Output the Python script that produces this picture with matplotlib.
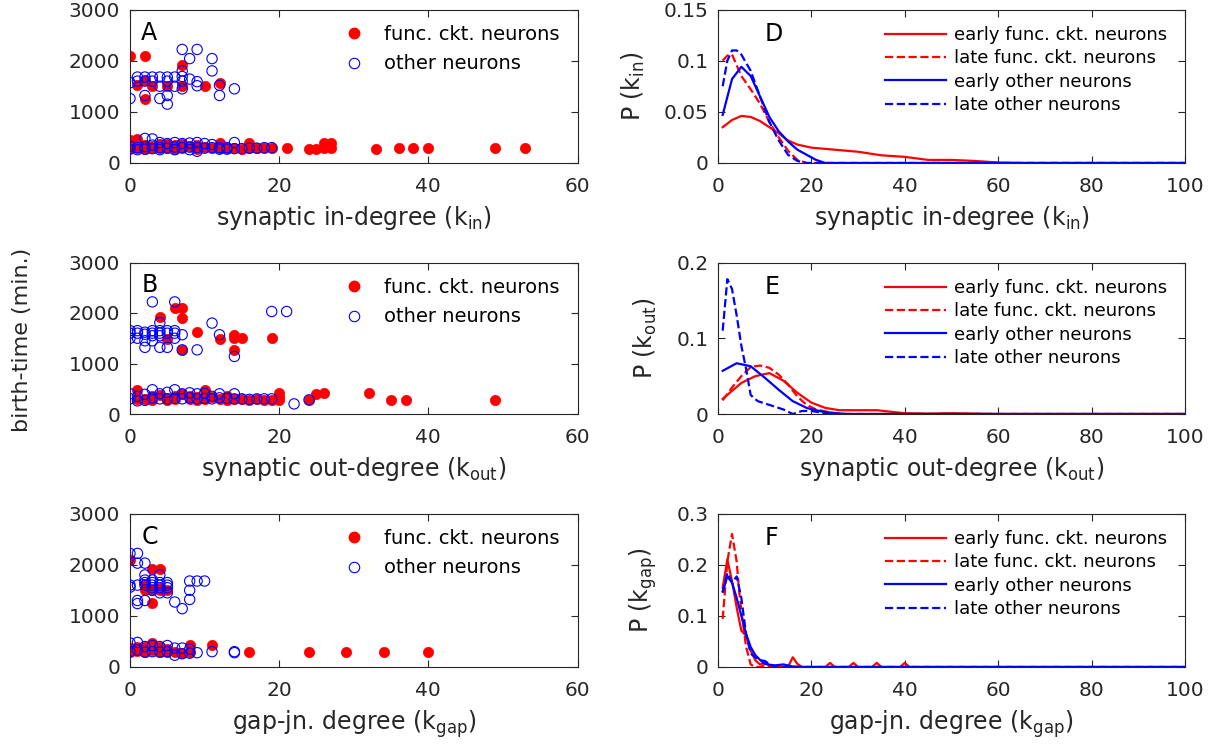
import matplotlib
matplotlib.use("Agg")
import matplotlib.pyplot as plt
from matplotlib.lines import Line2D

plt.rcParams['font.family'] = ['DejaVu Sans']
plt.rcParams['mathtext.default'] = 'regular'

TXT = '#262626'

# ---------------- Scatter data (degree, birth-time) ----------------
# Panel A: synaptic in-degree
a_func_x = [0, 2, 7, 1, 2, 2, 3, 5, 7, 10, 12,
            0, 0, 1, 1, 2, 2, 3, 3, 4, 4, 5, 5, 6, 6, 7, 7, 8, 9, 9, 10, 11, 12, 12,
            13, 14, 15, 16, 16, 17, 18, 19, 21, 24, 25, 26, 26, 27, 27, 33, 36, 38,
            40, 49, 53]
a_func_y = [2100, 2100, 1920, 1520, 1620, 1260, 1500, 1500, 1500, 1500, 1570,
            450, 300, 460, 300, 350, 280, 330, 290, 380, 300, 370, 290, 350, 280,
            380, 300, 340, 360, 280, 320, 300, 400, 290,
            300, 290, 280, 400, 300, 290, 290, 290, 290, 280, 280, 400, 300, 400,
            290, 280, 290, 290, 290, 290, 290]
a_other_x = [0, 0, 1, 1, 2, 2, 2, 3, 3, 4, 4, 4, 5, 5, 5, 5, 6, 6, 7, 7, 7, 7, 7,
             8, 8, 9, 9, 9, 11, 11, 12, 12, 14,
             0, 0, 1, 1, 2, 2, 2, 3, 3, 3, 4, 4, 4, 5, 5, 6, 6, 6, 7, 7, 8, 8, 8,
             9, 9, 9, 10, 10, 11, 11, 12, 12, 13, 13, 14, 14, 15, 16, 17, 18, 19]
a_other_y = [1570, 1260, 1680, 1600, 1680, 1600, 1320, 1680, 1600, 1680, 1500,
             1260, 1680, 1600, 1320, 1150, 1680, 1500, 1800, 1690, 1600, 1450, 2220,
             2040, 1640, 2220, 1590, 1510, 2040, 1800, 1520, 1320, 1450,
             330, 270, 300, 260, 480, 320, 270, 470, 350, 280, 400, 300, 260, 380,
             290, 400, 310, 260, 380, 300, 390, 310, 260, 400, 300, 230, 380, 290,
             360, 300, 300, 270, 300, 270, 400, 280, 280, 290, 290, 300, 300]

# Panel B: synaptic out-degree
b_func_x = [4, 6, 7, 7, 5, 7, 9, 12, 14, 14, 14, 15, 19,
            1, 1, 2, 3, 3, 4, 5, 5, 6, 6, 7, 8, 8, 9, 9, 10, 10, 11, 12, 13, 13,
            14, 15, 16, 17, 18, 19, 20, 20, 20, 24, 25, 26, 32, 35, 37, 49]
b_func_y = [1920, 2100, 2100, 1900, 1490, 1270, 1630, 1490, 1570, 1500, 1270,
            1500, 1500,
            480, 300, 300, 350, 280, 380, 320, 280, 360, 290, 400, 350, 290, 330,
            280, 470, 300, 330, 290, 350, 280, 300, 300, 280, 290, 280, 280, 410,
            330, 280, 280, 390, 410, 410, 280, 280, 280]
b_other_x = [3, 6, 4, 11, 12, 9, 14, 7, 7, 19, 21,
             0, 0, 0, 1, 1, 1, 2, 2, 2, 2, 3, 3, 3, 3, 4, 4, 4, 4, 5, 5, 5, 6, 6, 6,
             0, 0, 1, 1, 2, 2, 3, 3, 4, 4, 5, 5, 6, 6, 7, 7, 8, 8, 9, 9, 10, 10,
             11, 11, 12, 12, 13, 14, 14, 15, 16, 17, 18, 19, 22, 24]
b_other_y = [2220, 2220, 1810, 1800, 1570, 1270, 1140, 1270, 1570, 2030, 2030,
             1650, 1600, 1500, 1650, 1600, 1500, 1620, 1580, 1450, 1320, 1650, 1600,
             1550, 1450, 1650, 1600, 1550, 1320, 1650, 1600, 1320, 1650, 1600, 1500,
             400, 300, 350, 260, 390, 270, 480, 320, 400, 300, 430, 300, 480, 310,
             400, 300, 420, 320, 400, 300, 410, 310, 350, 300, 400, 320, 310, 400,
             300, 300, 290, 300, 300, 300, 200, 280]

# Panel C: gap-junction degree
c_func_x = [0, 3, 4, 2, 2, 3, 4, 4, 5, 3,
            0, 0, 1, 1, 2, 2, 3, 3, 4, 4, 5, 5, 6, 7, 8, 8, 11, 16, 24, 29, 34, 40]
c_func_y = [2090, 1910, 1910, 1630, 1500, 1500, 1550, 1500, 1500, 1260,
            380, 300, 400, 320, 390, 300, 470, 330, 400, 300, 350, 290, 300, 280,
            430, 300, 430, 290, 290, 290, 290, 290]
c_other_x = [0, 1, 1, 2, 0, 0, 1, 1, 1, 2, 2, 2, 2, 2, 3, 3, 3, 3, 3, 4, 4, 4, 4,
             4, 5, 5, 5, 5, 6, 7, 8, 8, 8, 9, 10,
             0, 0, 1, 1, 2, 2, 3, 3, 4, 4, 5, 5, 6, 6, 7, 7, 8, 8, 9, 11, 14, 14]
c_other_y = [2220, 2220, 2030, 2030, 1600, 1560, 1600, 1300, 1240, 1800, 1700,
             1650, 1600, 1300, 1700, 1650, 1600, 1550, 1500, 1800, 1650, 1600, 1550,
             1450, 1650, 1600, 1550, 1450, 1270, 1140, 1320, 1500, 1680, 1680, 1680,
             470, 300, 480, 330, 400, 290, 420, 300, 400, 290, 420, 300, 370, 230,
             370, 260, 350, 270, 280, 300, 300, 280]

# ---------------- Distribution curves ----------------
d_ef_x = [1, 3, 5, 7, 9, 11, 13, 15, 17, 20, 25, 30, 35, 40, 45, 50, 55, 60, 65, 100]
d_ef_y = [0.035, 0.042, 0.046, 0.045, 0.041, 0.035, 0.029, 0.022, 0.018, 0.015,
          0.013, 0.011, 0.0075, 0.006, 0.003, 0.003, 0.002, 0.0005, 0, 0]
d_lf_x = [1, 2, 3, 5, 7, 9, 11, 13, 15, 17, 19, 100]
d_lf_y = [0.100, 0.105, 0.106, 0.085, 0.072, 0.058, 0.040, 0.025, 0.012, 0.003, 0, 0]
d_eo_x = [1, 3, 5, 7, 9, 11, 13, 15, 17, 19, 21, 23, 100]
d_eo_y = [0.047, 0.082, 0.094, 0.085, 0.065, 0.045, 0.031, 0.021, 0.013, 0.008,
          0.003, 0, 0]
d_lo_x = [1, 2, 3, 4, 5, 7, 9, 11, 13, 15, 17, 19, 100]
d_lo_y = [0.075, 0.100, 0.110, 0.110, 0.106, 0.090, 0.065, 0.040, 0.022, 0.008,
          0.002, 0, 0]

e_ef_x = [1, 5, 8, 11, 14, 17, 20, 23, 26, 30, 34, 37, 40, 45, 50, 55, 60, 100]
e_ef_y = [0.020, 0.041, 0.050, 0.054, 0.044, 0.028, 0.015, 0.008, 0.005, 0.005,
          0.005, 0.003, 0.001, 0.0005, 0.001, 0.0005, 0, 0]
e_lf_x = [1, 3, 5, 7, 9, 11, 13, 15, 17, 19, 21, 24, 27, 100]
e_lf_y = [0.018, 0.035, 0.050, 0.062, 0.064, 0.061, 0.052, 0.039, 0.023, 0.012,
          0.006, 0.002, 0, 0]
e_eo_x = [1, 4, 7, 10, 13, 16, 19, 22, 25, 28, 100]
e_eo_y = [0.057, 0.067, 0.063, 0.048, 0.032, 0.017, 0.008, 0.0035, 0.001, 0, 0]
e_lo_x = [1, 2, 3, 4, 5, 6, 7, 8.5, 11, 14, 16, 18, 20, 23, 25, 100]
e_lo_y = [0.110, 0.178, 0.165, 0.130, 0.090, 0.060, 0.025, 0.017, 0.012, 0.006,
          0, 0.004, 0.004, 0.001, 0, 0]

f_ef_x = [1, 2, 3, 4, 5, 6, 7, 8, 9, 10, 11, 12, 13, 15, 16, 17, 18, 23, 24, 25,
          28, 29, 30, 33, 34, 35, 39, 40, 41, 100]
f_ef_y = [0.155, 0.210, 0.168, 0.116, 0.071, 0.061, 0.032, 0.013, 0.005, 0.008,
          0.004, 0.002, 0, 0, 0.019, 0.006, 0, 0, 0.008, 0, 0, 0.008, 0, 0, 0.008,
          0, 0, 0.008, 0, 0]
f_lf_x = [1, 2, 3, 4, 4.5, 5, 6, 7, 8, 9, 10, 11, 100]
f_lf_y = [0.094, 0.206, 0.260, 0.206, 0.150, 0.110, 0.040, 0.005, 0, 0, 0.003, 0, 0]
f_eo_x = [1, 2, 3, 4, 5, 6, 7, 8, 9, 10, 12, 14, 16, 18, 100]
f_eo_y = [0.148, 0.177, 0.165, 0.135, 0.100, 0.065, 0.039, 0.023, 0.014, 0.006,
          0.003, 0.005, 0.001, 0, 0]
f_lo_x = [1, 2, 3, 4, 5, 6, 7, 8, 9, 10, 11, 12, 13, 14, 100]
f_lo_y = [0.145, 0.184, 0.165, 0.177, 0.135, 0.065, 0.026, 0.019, 0.013, 0.012,
          0.006, 0.002, 0.003, 0, 0]

# ---------------- Labels ----------------
left_xlabels = [r'synaptic in-degree (k$_{in}$)', r'synaptic out-degree (k$_{out}$)',
                r'gap-jn. degree (k$_{gap}$)']
right_ylabels = [r'P (k$_{in}$)', r'P (k$_{out}$)', r'P (k$_{gap}$)']
left_letters = ['A', 'B', 'C']
right_letters = ['D', 'E', 'F']
scatter_labels = ['func. ckt. neurons', 'other neurons']
curve_labels = ['early func. ckt. neurons', 'late func. ckt. neurons',
                'early other neurons', 'late other neurons']
left_xticks = [0, 20, 40, 60]
left_yticks = [0, 1000, 2000, 3000]
right_xticks = [0, 20, 40, 60, 80, 100]
right_yticks = [[0, 0.05, 0.1, 0.15], [0, 0.1, 0.2], [0, 0.1, 0.2, 0.3]]
right_yticklabels = [['0', '0.05', '0.1', '0.15'], ['0', '0.1', '0.2'],
                     ['0', '0.1', '0.2', '0.3']]

scatter_sets = [(a_func_x, a_func_y, a_other_x, a_other_y),
                (b_func_x, b_func_y, b_other_x, b_other_y),
                (c_func_x, c_func_y, c_other_x, c_other_y)]
curve_sets = [[(d_ef_x, d_ef_y), (d_lf_x, d_lf_y), (d_eo_x, d_eo_y), (d_lo_x, d_lo_y)],
              [(e_ef_x, e_ef_y), (e_lf_x, e_lf_y), (e_eo_x, e_eo_y), (e_lo_x, e_lo_y)],
              [(f_ef_x, f_ef_y), (f_lf_x, f_lf_y), (f_eo_x, f_eo_y), (f_lo_x, f_lo_y)]]

W, H = 1216, 746
fig = plt.figure(figsize=(W / 100, H / 100), dpi=100)

def frac_box(x0, y0, x1, y1):
    return [x0 / W, 1 - y1 / H, (x1 - x0) / W, (y1 - y0) / H]

tops = [9.5, 262.5, 513.5]
bots = [163, 414, 667]

def style(ax):
    for s in ax.spines.values():
        s.set_color(TXT)
        s.set_linewidth(0.8)
    ax.tick_params(direction='in', top=True, right=True, length=5, width=0.8,
                   colors=TXT, labelsize=14.5, labelcolor=TXT)
    ax.tick_params(axis='x', pad=10)
    ax.tick_params(axis='y', pad=7)

line_styles = [('red', '-'), ('red', '--'), ('blue', '-'), ('blue', '--')]

for i in range(3):
    axl = fig.add_axes(frac_box(130, tops[i], 577.5, bots[i]))
    fx, fy, ox, oy = scatter_sets[i]
    axl.scatter(fx, fy, s=55, c='red', edgecolors='red', linewidths=0.5, zorder=2)
    axl.scatter(ox, oy, s=55, facecolors='none', edgecolors='blue', linewidths=0.8,
                zorder=3)
    axl.set_xlim(0, 60)
    axl.set_ylim(0, 3000)
    axl.set_xticks(left_xticks)
    axl.set_yticks(left_yticks)
    style(axl)
    axl.set_xlabel(left_xlabels[i], fontsize=17, color=TXT, labelpad=6)
    axl.text(0.025, 0.85, left_letters[i], transform=axl.transAxes, fontsize=17,
             color='black', va='center', ha='left')
    handles = [Line2D([], [], marker='o', ls='none', color='red', markersize=7.5),
               Line2D([], [], marker='o', ls='none', markerfacecolor='none',
                      markeredgecolor='blue', markersize=7.5, markeredgewidth=0.8)]
    axl.legend(handles, scatter_labels, loc='upper left',
               bbox_to_anchor=(0.445, 0.99), frameon=False, fontsize=14,
               handlelength=1.2, handletextpad=0.9, labelspacing=0.55,
               borderaxespad=0.3, labelcolor='black')

    axr = fig.add_axes(frac_box(718, tops[i], 1185, bots[i]))
    for (cx, cy), (col, ls) in zip(curve_sets[i], line_styles):
        axr.plot(cx, cy, color=col, ls=ls, lw=1.6)
    axr.set_xlim(0, 100)
    axr.set_ylim(right_yticks[i][0], right_yticks[i][-1])
    axr.set_xticks(right_xticks)
    axr.set_yticks(right_yticks[i])
    axr.set_yticklabels(right_yticklabels[i])
    style(axr)
    axr.set_xlabel(left_xlabels[i], fontsize=17, color=TXT, labelpad=6)
    axr.set_ylabel(right_ylabels[i], fontsize=17, color=TXT, labelpad=12)
    axr.text(0.1, 0.84, right_letters[i], transform=axr.transAxes, fontsize=17,
             color='black', va='center', ha='left')
    axr.legend(curve_labels, loc='upper left', bbox_to_anchor=(0.33, 0.975),
               frameon=False, fontsize=13, handlelength=3.4, handletextpad=0.45,
               labelspacing=0.3, borderaxespad=0.3, labelcolor='black')

fig.text(22 / W, 1 - 340 / H, 'birth-time (min.)', rotation=90, fontsize=16,
         color=TXT, ha='center', va='center')

fig.savefig('out.png', dpi=100)
